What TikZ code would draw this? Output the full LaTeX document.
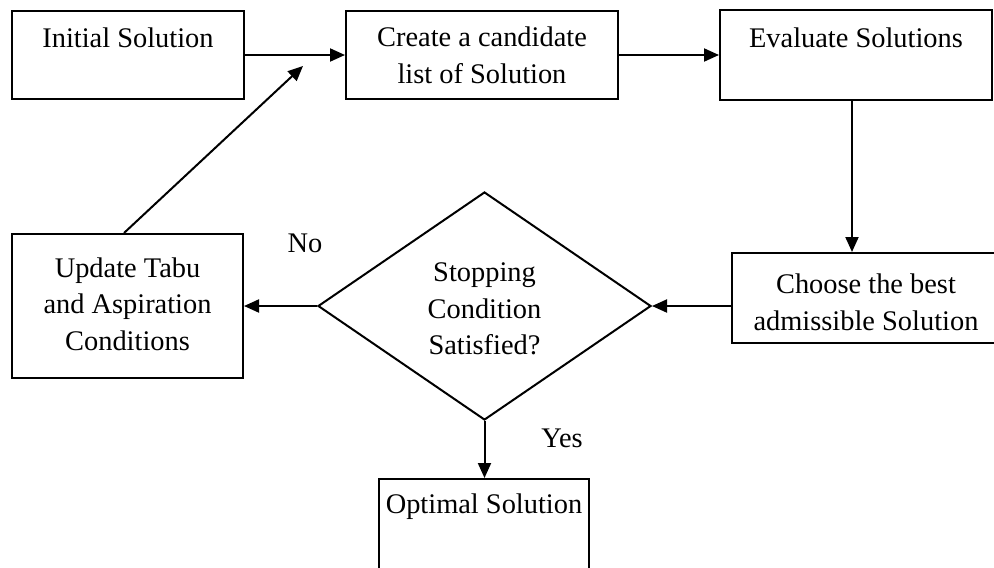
\documentclass[tikz,border=0pt]{standalone}
\usepackage{fontspec}
\setmainfont{Liberation Serif}
\usetikzlibrary{arrows.meta,shapes.geometric}
\begin{document}
\begin{tikzpicture}[x=1pt,y=-1pt,
  box/.style={draw, line width=2pt, inner sep=0pt, rectangle},
  txt/.style={font=\fontsize{28.4}{36.5}\selectfont, align=center, inner sep=0pt},
  arr/.style={line width=2pt, -{Triangle[length=15pt,width=13pt]}},
  decision/.style={draw, line width=2pt, diamond, inner sep=0pt}
]
\clip (0,0) rectangle (994,568);

% process boxes
\node[box, minimum width=232pt, minimum height=88pt] (init)   at (128,55)  {};
\node[box, minimum width=272pt, minimum height=88pt] (create) at (482,55) {};
\node[box, minimum width=272pt, minimum height=90pt] (eval)   at (856,55)  {};
\node[box, minimum width=268pt, minimum height=90pt] (choose) at (866,298) {};
\node[box, minimum width=231pt, minimum height=144pt] (update) at (127.5,306) {};
\node[box, minimum width=210pt, minimum height=110pt] (opt)   at (484,534) {};

% decision
\node[decision, minimum width=333pt, minimum height=228pt] (dec) at (484.5,306) {};

% texts
\node[txt] (initT)   at (128,38)  {Initial Solution};
\node[txt] (createT) at (482,55.5) {Create a candidate\\list of Solution};
\node[txt] (evalT)   at (856,38)  {Evaluate Solutions};
\node[txt] (chooseT) at (866,302.5) {Choose the best\\admissible Solution};
\node[txt] (updateT) at (127.5,304) {Update Tabu\\and Aspiration\\Conditions};
\node[txt] (decT)    at (484.5,309) {Stopping\\Condition\\Satisfied?};
\node[txt] (optT)    at (484,507) {Optimal Solution};
\node[txt] (no)      at (305,243) {No};
\node[txt] (yes)     at (562,438) {Yes};

% connectors
\coordinate (loopend) at (303,66);
\draw[arr] (init) -- (create);
\draw[arr] (create) -- (eval);
\draw[arr] ([xshift=-4pt]eval.south) -- ([xshift=-4pt]eval.south |- choose.north);
\draw[arr] (choose.west |- dec.east) -- (dec.east);
\draw[arr] (dec.west) -- (update.east |- dec.west);
\draw[arr] ([xshift=-3.5pt]update.north) -- (loopend);
\draw[arr] (dec.south) -- (dec.south |- opt.north);
\end{tikzpicture}
\end{document}
